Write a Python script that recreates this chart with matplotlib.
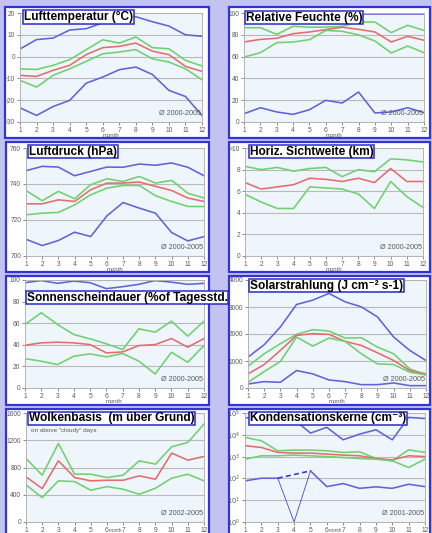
import numpy as np
import matplotlib
matplotlib.use('Agg')
import matplotlib.pyplot as plt
from matplotlib.patches import Rectangle

plt.rcParams['font.family'] = ['Liberation Sans', 'DejaVu Sans']

months = list(range(1, 13))

# ---- Lufttemperatur (°C)
temp_max  = [3.5, 7.8, 8.5, 12.2, 12.8, 15.5, 18.0, 18.3, 16.0, 14.0, 10.0, 9.3]
temp_p_hi = [-5.6, -5.9, -4.0, -1.4, 3.2, 7.7, 6.2, 9.0, 4.1, 3.6, -1.7, -4.3]
temp_mean = [-8.6, -9.1, -6.3, -4.0, 0.9, 4.1, 4.7, 6.2, 2.5, 0.9, -4.5, -6.8]
temp_p_lo = [-10.9, -14.0, -8.6, -5.6, -2.2, 1.3, 2.1, 3.2, -1.0, -2.5, -5.6, -10.6]
temp_min  = [-23.5, -27.0, -22.9, -20.1, -12.2, -9.4, -6.0, -4.8, -8.2, -15.5, -18.3, -27.0]

# ---- Relative Feuchte (%)
rh_max  = [99.3, 99.3, 99.3, 99.3, 99.3, 99.3, 99.3, 99.3, 99.3, 99.3, 99.3, 99.3]
rh_p_hi = [86.5, 86.5, 80.4, 87.8, 87.0, 87.0, 87.8, 91.7, 91.7, 82.0, 88.7, 84.0]
rh_mean = [73.4, 75.8, 76.8, 81.0, 82.6, 84.7, 87.0, 85.0, 82.6, 73.4, 78.6, 75.0]
rh_p_lo = [59.6, 63.6, 72.8, 73.4, 75.5, 84.0, 83.2, 80.0, 74.3, 63.3, 69.7, 63.6]
rh_min  = [7.6, 13.1, 9.2, 7.0, 11.3, 19.9, 17.4, 27.5, 8.3, 9.2, 13.1, 8.6]

# ---- Luftdruck (hPa)
p_max  = [747.4, 749.8, 749.4, 744.6, 747.0, 749.4, 749.3, 751.1, 750.4, 751.7, 749.3, 744.6]
p_p_hi = [736.4, 730.7, 735.9, 731.8, 739.6, 742.9, 741.4, 744.2, 740.5, 742.0, 734.9, 732.2]
p_mean = [729.0, 729.0, 731.2, 730.3, 736.8, 740.5, 740.5, 741.1, 738.7, 736.4, 732.2, 730.3]
p_p_lo = [722.9, 723.8, 724.2, 728.4, 734.0, 737.7, 739.2, 739.2, 733.5, 730.3, 727.5, 727.5]
p_min  = [709.3, 705.8, 708.6, 713.2, 710.8, 722.3, 729.7, 726.6, 723.8, 713.0, 708.4, 710.8]

# ---- Horiz. Sichtweite (km)
vis_p_hi = [8.3, 8.0, 8.2, 7.85, 8.1, 8.2, 7.35, 8.0, 7.8, 9.0, 8.9, 8.7]
vis_mean = [6.8, 6.2, 6.4, 6.6, 7.2, 7.1, 6.9, 7.2, 6.8, 8.1, 6.9, 6.9]
vis_p_lo = [5.7, 5.0, 4.4, 4.4, 6.4, 6.3, 6.2, 5.75, 4.4, 6.9, 5.5, 4.5]
vis_ticklabels = ['0', '2', '4', '6', '8', '>10']

# ---- Sonnenscheindauer (% of Tagesstd.)
sun_max  = [97.5, 99.5, 96.9, 99.0, 97.5, 92.0, 93.8, 96.0, 99.5, 98.0, 96.0, 96.9]
sun_p_hi = [58.8, 69.7, 58.8, 49.5, 45.5, 40.9, 35.6, 54.8, 51.7, 61.9, 48.0, 61.9]
sun_mean = [39.6, 41.8, 42.4, 41.8, 40.2, 32.5, 33.4, 39.3, 40.2, 45.8, 37.8, 45.8]
sun_p_lo = [27.2, 24.8, 21.7, 29.4, 31.6, 28.8, 31.9, 24.8, 13.0, 33.1, 23.8, 39.3]

# ---- Solarstrahlung (J cm-2 s-1)
sol_max  = [1143, 1602, 2260, 3093, 3254, 3502, 3192, 3006, 2633, 1888, 1391, 1018]
sol_p_hi = [807, 1267, 1640, 1987, 2161, 2111, 1850, 1863, 1515, 1267, 708, 484]
sol_mean = [522, 869, 1391, 1950, 2012, 1987, 1726, 1577, 1304, 1018, 646, 522]
sol_p_lo = [211, 609, 981, 1888, 1552, 1850, 1726, 1267, 894, 869, 584, 484]
sol_min  = [149, 236, 211, 646, 522, 298, 236, 124, 124, 186, 87, 87]

# ---- Wolkenbasis (m über Grund)
cb_p_hi = [933, 687, 1153, 702, 702, 653, 687, 898, 849, 1104, 1168, 1438]
cb_mean = [663, 491, 898, 653, 604, 613, 613, 677, 628, 1011, 908, 962]
cb_p_lo = [545, 358, 604, 594, 466, 520, 481, 407, 496, 643, 702, 604]

# ---- Kondensationskerne (cm-3)
cn_max  = [60000, 60000, 60000, 50000, 12000, 22000, 5900, 10700, 17000, 5900, 63000, 56000]
cn_p_hi = [7600, 5350, 1850, 1990, 1990, 1850, 1550, 1660, 815, 640, 2050, 1550]
cn_mean = [3160, 2630, 1550, 1450, 1450, 1300, 1170, 1090, 815, 710, 1090, 1000]
cn_p_lo = [760, 1090, 1090, 1170, 1090, 1000, 910, 815, 760, 640, 316, 760]
cn_min  = [77, 102, 102, 1, 222, 42, 58, 35, 41, 35, 54, 42]
cn_gap_month = 4

periods = ['\u00d8 2000-2005', '\u00d8 2000-2005', '\u00d8 2000-2005', '\u00d8 2000-2005',
           '\u00d8 2000-2005', '\u00d8 2000-2005', '\u00d8 2002-2005', '\u00d8 2001-2005']

titles = ['Lufttemperatur (\u00b0C)', 'Relative Feuchte (%)', 'Luftdruck (hPa)',
          'Horiz. Sichtweite (km)', 'Sonnenscheindauer (%of Tagesstd.',
          'Solarstrahlung (J cm\u207b\u00b2 s-1)', 'Wolkenbasis  (m \u00fcber Grund)',
          'Kondensationskerne (cm\u207b\u00b3)']

# ---------------- styling / layout -----------------
BLUE = '#6262d9'
GREEN = '#6fd06f'
RED = '#e46c6c'
BORDER = '#3434d4'
TXT = '#5a5a5a'

W, H = 432, 533
fig = plt.figure(figsize=(W / 100, H / 100), dpi=100)
fig.patch.set_facecolor('#c3c3f2')


def fx(x):
    return x / W


def fy(y):
    return 1 - y / H


# panel rect (x0, y0, x1, y1) and axes rect in pixels
layout = [
    ((5, 7, 209, 138), (20, 13, 202, 122)),
    ((229, 7, 430, 138), (244, 13, 424, 122)),
    ((6, 142, 209, 272), (26, 148, 204, 256)),
    ((229, 142, 430, 272), (245, 148, 423, 256)),
    ((6, 276, 209, 405), (25, 280, 204, 388)),
    ((229, 276, 430, 405), (248, 280, 426, 388)),
    ((6, 409, 209, 536), (26, 413, 204, 522)),
    ((229, 409, 430, 536), (245, 413, 425, 522)),
]
title_pos = [(24, 17), (246, 17.5), (29, 151.5), (250, 151.5),
             (27, 297.5), (250, 285.5), (29, 418.5), (250, 418.5)]
bottom_row = [False, False, False, False, False, False, True, True]

axes = []
for (p, a), last in zip(layout, bottom_row):
    rect = Rectangle((fx(p[0]), fy(p[3])), fx(p[2]) - fx(p[0]), fy(p[1]) - fy(p[3]),
                     transform=fig.transFigure, facecolor='white', edgecolor=BORDER,
                     lw=1.6, zorder=-5)
    fig.add_artist(rect)
    ax = fig.add_axes([fx(a[0]), fy(a[3]), fx(a[2]) - fx(a[0]), fy(a[1]) - fy(a[3])])
    ax.set_facecolor('#eef5fb')
    for s in ax.spines.values():
        s.set_color('#b4b4b4')
        s.set_linewidth(0.7)
    ax.tick_params(axis='both', labelsize=4.8, colors=TXT, length=2, width=0.5, pad=1.5)
    ax.set_xlim(1, 12)
    ax.set_xticks(months)
    ax.grid(axis='y', color='#b9b9b9', lw=0.8)
    ax.set_axisbelow(True)
    if last:
        fig.text((fx(a[0]) + fx(a[2])) / 2, 0.0008, 'month', ha='center', va='bottom',
                 fontsize=3.4, color=TXT)
    else:
        ax.text(0.5, -0.1, 'month', transform=ax.transAxes, ha='center', va='top',
                fontsize=4.3, color=TXT)
    axes.append(ax)


def draw(ax, series, colors):
    for s, c in zip(series, colors):
        ax.plot(months, s, color=c, lw=1.15, solid_joinstyle='round', clip_on=True)


five = [BLUE, GREEN, RED, GREEN, BLUE]
three = [GREEN, RED, GREEN]

ax = axes[0]
draw(ax, [temp_max, temp_p_hi, temp_mean, temp_p_lo, temp_min], five)
ax.set_ylim(-30, 20)
ax.set_yticks([-30, -20, -10, 0, 10, 20])

ax = axes[1]
draw(ax, [rh_max, rh_p_hi, rh_mean, rh_p_lo, rh_min], five)
ax.set_ylim(0, 100)
ax.set_yticks([0, 20, 40, 60, 80, 100])

ax = axes[2]
draw(ax, [p_max, p_p_hi, p_mean, p_p_lo, p_min], five)
ax.set_ylim(700, 760)
ax.set_yticks([700, 720, 740, 760])

ax = axes[3]
draw(ax, [vis_p_hi, vis_mean, vis_p_lo], three)
ax.set_ylim(0, 10)
ax.set_yticks([0, 2, 4, 6, 8, 10])
ax.set_yticklabels(vis_ticklabels)

ax = axes[4]
draw(ax, [sun_max, sun_p_hi, sun_mean, sun_p_lo], [BLUE, GREEN, RED, GREEN])
ax.set_ylim(0, 100)
ax.set_yticks([0, 20, 40, 60, 80, 100])

ax = axes[5]
draw(ax, [sol_max, sol_p_hi, sol_mean, sol_p_lo, sol_min], five)
ax.set_ylim(0, 4000)
ax.set_yticks([0, 1000, 2000, 3000, 4000])

ax = axes[6]
draw(ax, [cb_p_hi, cb_mean, cb_p_lo], three)
ax.set_ylim(0, 1600)
ax.set_yticks([0, 400, 800, 1200, 1600])
ax.text(0.03, 0.835, 'on above "cloudy" days', transform=ax.transAxes, fontsize=4.6,
        color=TXT, ha='left', va='center')

ax = axes[7]
ax.set_yscale('log')
draw(ax, [cn_max, cn_p_hi, cn_mean, cn_p_lo], [BLUE, GREEN, RED, GREEN])
gi = months.index(cn_gap_month)
mins = np.array(cn_min, dtype=float)
masked = mins.copy()
masked[gi] = np.nan
ax.plot(months, masked, color=BLUE, lw=1.15)
ax.plot([months[gi - 1], months[gi + 1]], [mins[gi - 1], mins[gi + 1]], color='#3c3cd0',
        lw=1.2, ls=(0, (3, 2)))
ax.plot(months[gi - 1:gi + 2], mins[gi - 1:gi + 2], color='#4848d8', lw=0.6)
ax.set_ylim(1, 1e5)
ax.set_yticks([1, 10, 100, 1000, 1e4, 1e5])
ax.set_yticklabels([r'$10^{%d}$' % k for k in range(6)])
ax.minorticks_off()
ax.set_xticks(months)

for ax, per in zip(axes, periods):
    ax.text(0.995, 0.045, per, transform=ax.transAxes, ha='right', va='bottom',
            fontsize=5.2, color=TXT)

for t, (x, y) in zip(titles, title_pos):
    fig.text(fx(x), fy(y), t, ha='left', va='center', fontsize=8.6, fontweight='bold',
             color='black', zorder=10,
             bbox=dict(boxstyle='square,pad=0.05', fc='white', ec='#2a2ac8', lw=1.1))

fig.savefig('out.png', dpi=100, facecolor=fig.get_facecolor())
